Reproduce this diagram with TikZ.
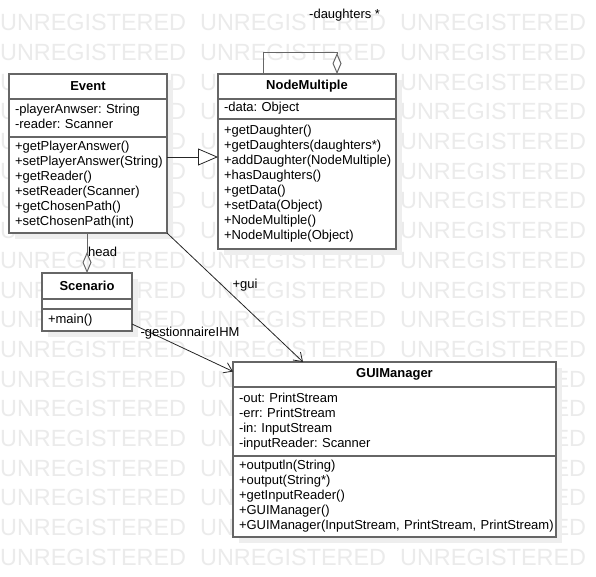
\documentclass[tikz,border=0pt]{standalone}
\usepackage{fontspec}
\setmainfont{Liberation Sans}
\frenchspacing
\usetikzlibrary{arrows.meta,positioning,backgrounds}

\definecolor{boxline}{HTML}{666666}
\definecolor{linkline}{HTML}{262626}
\definecolor{shadowgray}{HTML}{EEEEEE}
\definecolor{markgray}{HTML}{EBEBEB}

\tikzset{
  classtitle/.style={draw=boxline, line width=1.3bp, fill=white, outer sep=0pt,
    inner sep=0pt, font=\fontsize{13bp}{15bp}\selectfont\bfseries},
  classpart/.style={draw=boxline, line width=1.3bp, fill=white, outer sep=0pt,
    inner xsep=6bp, inner ysep=0pt, align=left,
    execute at begin node=\strut, execute at end node=\strut},
  emptypart/.style={draw=boxline, line width=1.3bp, fill=white, outer sep=0pt,
    inner sep=0pt},
  wmark/.style={text=markgray, inner sep=0pt, anchor=base west,
    font=\fontsize{23.4bp}{28bp}\selectfont},
  assoc/.style={draw=linkline, line width=0.8bp, -{Straight Barb[length=8bp,width=11bp]}},
  general/.style={draw=linkline, line width=0.8bp, -{Triangle[open,length=20bp,width=17bp]}},
  aggreg/.style={draw=boxline, line width=1bp, -{Diamond[open,length=21bp,width=9bp]}},
  linklabel/.style={inner sep=0pt}
}

\begin{document}
\begin{tikzpicture}[x=1bp, y=-1bp, font=\fontsize{13bp}{15bp}\selectfont]
  \useasboundingbox (0,0) rectangle (596,577);

  % Event
  \node[classtitle, minimum width=158bp, minimum height=25bp, anchor=north west] (evtitle) at (9,74) {Event};
  \node[classpart, text width=146bp, minimum height=38bp, below=0pt of evtitle] (evattr)
    {-playerAnwser: String\\-reader: Scanner};
  \node[classpart, text width=146bp, minimum height=96bp, below=0pt of evattr] (evops)
    {+getPlayerAnswer()\\+setPlayerAnswer(String)\\+getReader()\\+setReader(Scanner)\\+getChosenPath()\\+setChosenPath(int)};

  % NodeMultiple
  \node[classtitle, minimum width=178bp, minimum height=25bp, anchor=north west] (nmtitle) at (218,74) {NodeMultiple};
  \node[classpart, text width=166bp, minimum height=20bp, below=0pt of nmtitle] (nmattr)
    {-data: Object};
  \node[classpart, text width=166bp, minimum height=130bp, below=0pt of nmattr] (nmops)
    {+getDaughter()\\+getDaughters(daughters*)\\+addDaughter(NodeMultiple)\\+hasDaughters()\\+getData()\\+setData(Object)\\+NodeMultiple()\\+NodeMultiple(Object)};

  % Scenario
  \node[classtitle, minimum width=90bp, minimum height=26bp, anchor=north west] (sctitle) at (42,273) {Scenario};
  \node[emptypart, minimum width=90bp, minimum height=10bp, below=0pt of sctitle] (scattr) {};
  \node[classpart, text width=78bp, minimum height=22bp, below=0pt of scattr] (scops)
    {+main()};

  % GUIManager
  \node[classtitle, minimum width=323bp, minimum height=25bp, anchor=north west] (guititle) at (233,362) {GUIManager};
  \node[classpart, text width=311bp, minimum height=69bp, below=0pt of guititle] (guiattr)
    {-out: PrintStream\\-err: PrintStream\\-in: InputStream\\-inputReader: Scanner};
  \node[classpart, text width=311bp, minimum height=81bp, below=0pt of guiattr] (guiops)
    {+outputln(String)\\+output(String*)\\+getInputReader()\\+GUIManager()\\\mbox{+GUIManager(InputStream, PrintStream, PrintStream)}};

  % Generalisation
  \path ([yshift=28bp]evops.east) coordinate (genfrom);
  \draw[general] (genfrom) -- (genfrom -| nmops.west);

  % Aggregations
  \draw[aggreg] (sctitle.north |- evops.south) -- (sctitle.north);
  \node[linklabel, anchor=west] (headlabel) at (88,252) {head};
  \draw[aggreg] ([xshift=45bp]nmtitle.north west) -- ++(0,-21) -| ([xshift=119bp]nmtitle.north west);
  \node[linklabel, anchor=west] (dlabel) at (309,15) {-daughters *};

  % Associations
  \draw[assoc] (evops.south east) -- ([xshift=70bp]guititle.north west);
  \node[linklabel] (guilabel) at (245,285) {+gui};
  \draw[assoc] ([yshift=-4bp]scops.east) -- ([yshift=3bp]guititle.west);
  \node[linklabel] (gestlabel) at (190,333) {-gestionnaireIHM};

  % Watermark and shadows
  \begin{scope}[on background layer]
    \fill[white] (0,0) rectangle (596,577);
    \foreach \row in {0,...,18}
      \foreach \col in {0,1,2}
        \node[wmark] (wm-\row-\col) at (200*\col, 30.7+29.7*\row) {UNREGISTERED};
    \fill[shadowgray] ([shift={(6,6)}]evtitle.north west) rectangle ([shift={(6,6)}]evops.south east);
    \fill[shadowgray] ([shift={(6,6)}]nmtitle.north west) rectangle ([shift={(6,6)}]nmops.south east);
    \fill[shadowgray] ([shift={(6,6)}]sctitle.north west) rectangle ([shift={(6,6)}]scops.south east);
    \fill[shadowgray] ([shift={(6,6)}]guititle.north west) rectangle ([shift={(6,6)}]guiops.south east);
  \end{scope}
\end{tikzpicture}
\end{document}
